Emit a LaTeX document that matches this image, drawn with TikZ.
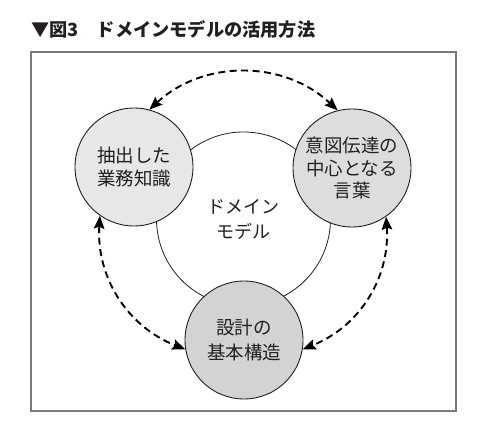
\documentclass[tikz,border=0pt]{standalone}
\usepackage{fontspec}
\setmainfont{Noto Sans CJK JP}
\usetikzlibrary{arrows.meta}
\definecolor{ink}{HTML}{231F20}
\definecolor{framegray}{HTML}{7A7B7D}
\definecolor{fillL}{HTML}{E6E7E8}
\definecolor{fillR}{HTML}{DCDDDE}
\definecolor{fillB}{HTML}{D2D3D5}
\begin{document}
\begin{tikzpicture}[x=1pt,y=-1pt,
  font=\fontsize{18.5}{23}\selectfont, text=ink,
  frame/.style={draw=framegray, line width=1.3pt},
  bigcirc/.style={circle, draw=ink, line width=0.8pt, fill=white, minimum size=174pt, inner sep=0pt, align=center},
  small/.style={circle, draw=ink, line width=0.9pt, minimum size=118pt, inner sep=0pt, align=center},
  link/.style={draw=black, line width=1.9pt, dash pattern=on 7pt off 4.5pt,
    {Stealth[length=13pt,width=10.5pt,inset=2pt]}-{Stealth[length=13pt,width=10.5pt,inset=2pt]}}]
\useasboundingbox (0,0) rectangle (483,436);
\node[anchor=base west, inner sep=0pt, font=\fontsize{18.2}{20}\selectfont\bfseries] (title) at (31,36.5) {▼図3　ドメインモデルの活用方法};
\draw[frame] (31,52) rectangle (456,411);
\node[bigcirc, font=\fontsize{18}{25}\selectfont] (M) at (243.5,219) {ドメイン\\モデル};
\node[small, fill=fillL] (L) at (134,167) {抽出した\\業務知識};
\node[small, fill=fillR, font=\fontsize{18.5}{22.5}\selectfont] (R) at (352,168) {意図伝達の\\中心となる\\言葉};
\node[small, fill=fillB, font=\fontsize{18.5}{25}\selectfont] (B) at (244,340) {設計の\\基本構造};
\draw[link] (L.75) to[bend left=43] (R.104);
\draw[link] (L.235) to[bend right=36] (B.189);
\draw[link] (R.305) to[bend left=36] (B.351);
\end{tikzpicture}
\end{document}
